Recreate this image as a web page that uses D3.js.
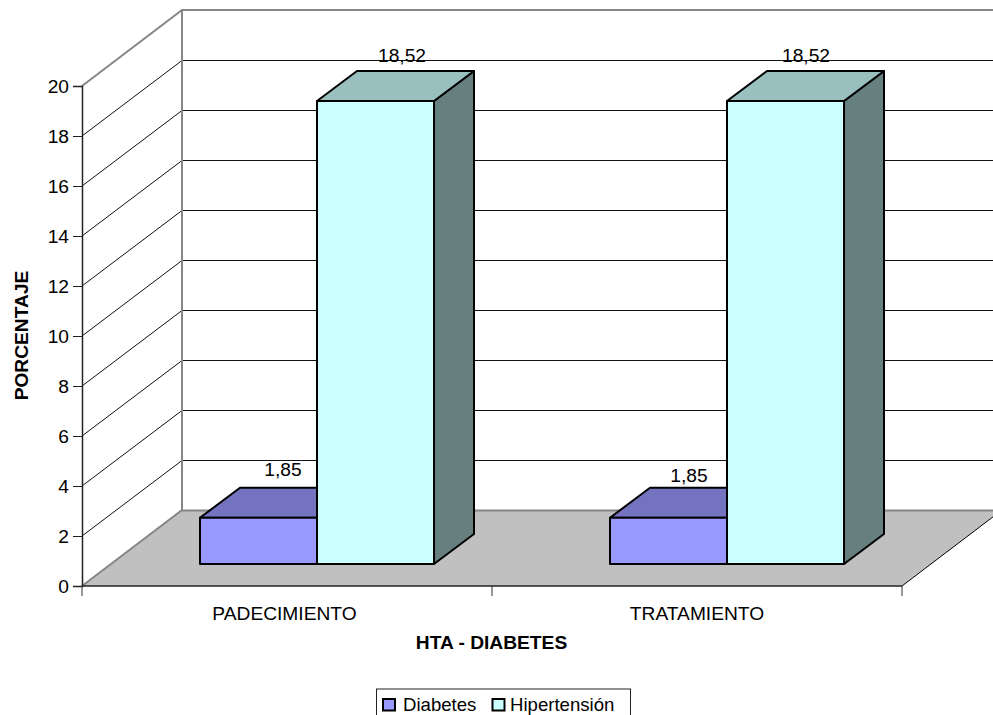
<!DOCTYPE html>
<html>
<head>
<meta charset="utf-8">
<script src="https://cdn.jsdelivr.net/npm/d3@7/dist/d3.min.js"></script>
<style>
html,body{margin:0;padding:0;background:#fff;overflow:hidden}
svg{display:block}
text{font-family:"Liberation Sans",Arial,sans-serif;fill:#000}
</style>
</head>
<body>
<svg id="chart" width="993" height="715"></svg>
<script>
const categories = ["PADECIMIENTO", "TRATAMIENTO"];
const seriesNames = ["Diabetes", "Hipertensión"];
const diabetes = [1.85, 1.85];
const hipertension = [18.52, 18.52];
const valueLabels = [["1,85", "1,85"], ["18,52", "18,52"]];
const yTicks = [0, 2, 4, 6, 8, 10, 12, 14, 16, 18, 20];
const faceColors = ["#9999ff", "#ccffff"];
const topColors = ["#7373bf", "#99bfbf"];
const sideColors = ["#5c5c99", "#667f7f"];

const fontSize = 19.2;
const svg = d3.select("#chart");
const y = d3.scaleLinear().domain([0, 20]).range([586, 86]);
const x = d3.scaleBand().domain(categories).range([82, 902]);
const inner = d3.scaleBand().domain(seriesNames).range([118, 352]);

// Oblique projection: wall depth and bar depth offsets
const wall = { dx: 100, dy: -76 };
const front = { dx: 0, dy: -22 };
const barDepth = { dx: 40, dy: -30 };
const poly = pts => pts.map(p => p.join(",")).join(" ");

// Floor
svg.append("polygon")
  .attr("points", poly([[x.range()[0], y(0)], [x.range()[1], y(0)],
    [x.range()[1] + wall.dx, y(0) + wall.dy], [x.range()[0] + wall.dx, y(0) + wall.dy]]))
  .attr("fill", "#c0c0c0");

// Gridlines on the side and back walls
const innerTicks = yTicks.filter(v => v > 0 && v < 20);
svg.append("g").selectAll("path").data(innerTicks).join("path")
  .attr("d", v => `M${x.range()[0]},${y(v)}L${x.range()[0] + wall.dx},${y(v) + wall.dy + 0.5}H993`)
  .attr("fill", "none").attr("stroke", "#111").attr("stroke-width", 1);

// Wall outline
svg.append("path")
  .attr("d", `M${x.range()[0]},${y(20)}L${x.range()[0] + wall.dx},${y(20) + wall.dy}H993`)
  .attr("fill", "none").attr("stroke", "#868686").attr("stroke-width", 2);
svg.append("path")
  .attr("d", `M${x.range()[0]},${y(0)}L${x.range()[0] + wall.dx},${y(0) + wall.dy}V${y(20) + wall.dy}`)
  .attr("fill", "none").attr("stroke", "#868686").attr("stroke-width", 2);
svg.append("path")
  .attr("d", `M${x.range()[0] + wall.dx},${y(0) + wall.dy + 0.5}H993`)
  .attr("fill", "none").attr("stroke", "#868686").attr("stroke-width", 2);
svg.append("line")
  .attr("x1", x.range()[1]).attr("y1", y(0))
  .attr("x2", x.range()[1] + wall.dx).attr("y2", y(0) + wall.dy)
  .attr("stroke", "#000").attr("stroke-width", 1);

// Bars, drawn per category from left series to right series
const series = [diabetes, hipertension];
categories.forEach((cat, c) => {
  series.forEach((vals, s) => {
    const x0 = x(cat) + inner(seriesNames[s]);
    const x1 = x0 + inner.bandwidth();
    const yb = y(0) + front.dy;
    const yt = y(vals[c]) + front.dy;
    const d = barDepth;
    const g = svg.append("g").attr("stroke", "#000").attr("stroke-width", 2).attr("stroke-linejoin", "round");
    g.append("polygon").attr("points", poly([[x1, yb], [x1 + d.dx, yb + d.dy], [x1 + d.dx, yt + d.dy], [x1, yt]])).attr("fill", sideColors[s]);
    g.append("polygon").attr("points", poly([[x0, yt], [x0 + d.dx, yt + d.dy], [x1 + d.dx, yt + d.dy], [x1, yt]])).attr("fill", topColors[s]);
    g.append("rect").attr("x", x0).attr("y", yt).attr("width", x1 - x0).attr("height", yb - yt).attr("fill", faceColors[s]);
  });
});

// Value labels sit above all bars
const labelShift = [[24.5, 20.5], [26.5, 20.5]];
const labelRaise = [[12, 6], [9, 9]];
categories.forEach((cat, c) => {
  series.forEach((vals, s) => {
    const cx = x(cat) + inner(seriesNames[s]) + inner.bandwidth() / 2 + labelShift[s][c];
    svg.append("text")
      .attr("x", cx)
      .attr("y", y(vals[c]) + front.dy + barDepth.dy - labelRaise[s][c])
      .attr("text-anchor", "middle").attr("font-size", fontSize)
      .text(valueLabels[s][c]);
  });
});

// Value axis
const yAxis = svg.append("g").attr("transform", `translate(${x.range()[0]},0)`)
  .call(d3.axisLeft(y).tickValues(yTicks).tickSize(9).tickPadding(4).tickFormat(d3.format("d")));
yAxis.selectAll("path").attr("stroke", "#222").attr("stroke-width", 1.5);
yAxis.selectAll("line").attr("stroke", "#222");
yAxis.selectAll("text").attr("font-size", fontSize).attr("font-family", '"Liberation Sans",Arial,sans-serif').attr("fill", "#000");

// Category axis with separators at the band edges
const xAxisY = y(0);
svg.append("line").attr("x1", x.range()[0]).attr("x2", x.range()[1]).attr("y1", xAxisY).attr("y2", xAxisY)
  .attr("stroke", "#222").attr("stroke-width", 1.5);
svg.append("g").selectAll("line").data([x.range()[0], x(categories[1]), x.range()[1]]).join("line")
  .attr("x1", d => d).attr("x2", d => d).attr("y1", xAxisY).attr("y2", xAxisY + 10)
  .attr("stroke", "#333").attr("stroke-width", 1);
svg.append("g").selectAll("text").data(categories).join("text")
  .attr("x", (d, i) => x(d) + x.bandwidth() / 2 - [2.5, 0][i])
  .attr("y", 620).attr("text-anchor", "middle").attr("font-size", fontSize)
  .text(d => d);

// Axis titles
svg.append("text").attr("x", 491.5).attr("y", 649).attr("text-anchor", "middle")
  .attr("font-size", fontSize).attr("font-weight", "bold").text("HTA - DIABETES");
svg.append("text").attr("transform", "translate(28,335.5) rotate(-90)").attr("text-anchor", "middle")
  .attr("font-size", fontSize).attr("font-weight", "bold").text("PORCENTAJE");

// Legend
svg.append("rect").attr("x", 376.5).attr("y", 689).attr("width", 254).attr("height", 40)
  .attr("fill", "#fff").attr("stroke", "#222").attr("stroke-width", 1);
const legendX = [[383, 403], [492.5, 510]];
seriesNames.forEach((name, i) => {
  svg.append("rect").attr("x", legendX[i][0]).attr("y", 699).attr("width", 12).attr("height", 11.5)
    .attr("fill", faceColors[i]).attr("stroke", "#000").attr("stroke-width", 2);
  svg.append("text").attr("x", legendX[i][1]).attr("y", 711).attr("font-size", 18.6).text(name);
});
</script>
</body>
</html>
